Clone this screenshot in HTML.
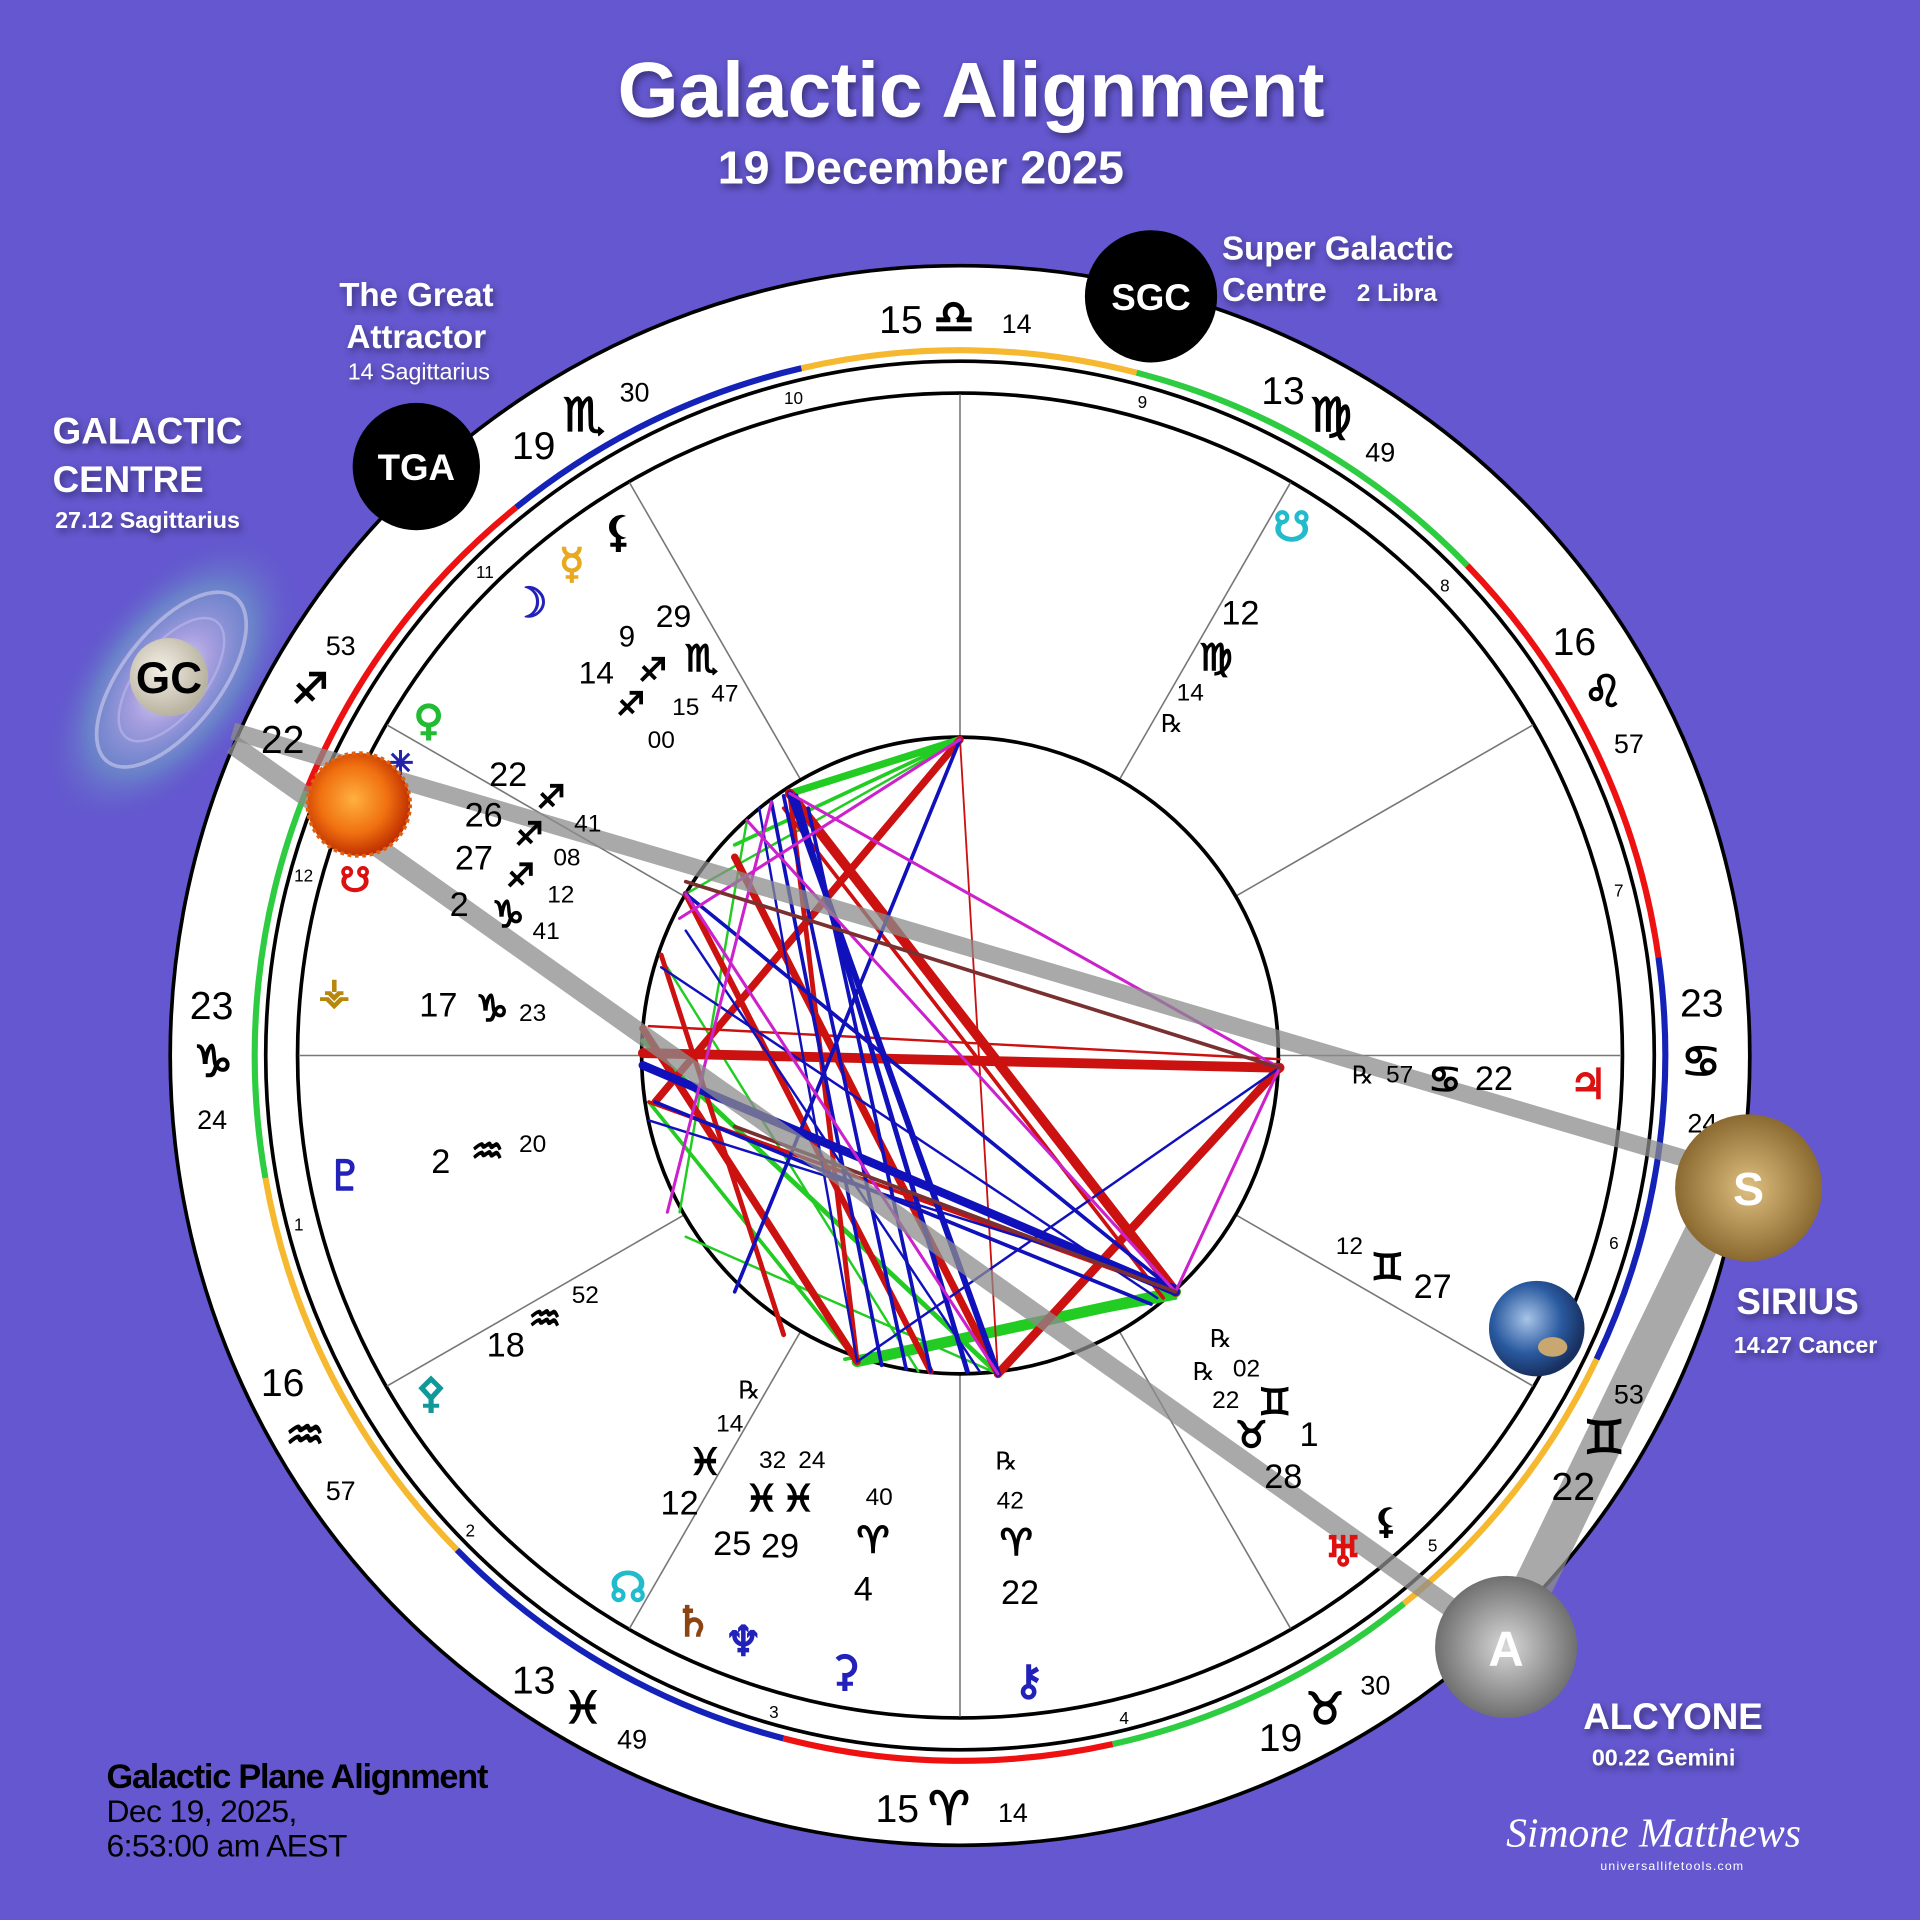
<!DOCTYPE html>
<html><head><meta charset="utf-8"><style>
html,body{margin:0;padding:0;background:#6457cf;overflow:hidden;width:1920px;height:1920px}
svg{display:block}
.w{fill:#fff;font-family:"Liberation Sans",sans-serif;font-weight:bold}
.k{fill:#000;font-family:"Liberation Sans","DejaVu Sans",sans-serif}
.g{font-family:"DejaVu Sans",sans-serif;stroke:currentColor;stroke-width:1.2}
</style></head><body>
<svg width="1920" height="1920" viewBox="0 0 1568 1568" xmlns="http://www.w3.org/2000/svg">
<defs>
<radialGradient id="gal" cx="50%" cy="50%" r="50%">
<stop offset="0" stop-color="#e8e6f5"/><stop offset="0.3" stop-color="#a89fe0"/><stop offset="0.65" stop-color="#6a8ac8" stop-opacity="0.8"/><stop offset="1" stop-color="#6457cf" stop-opacity="0"/></radialGradient>
<radialGradient id="sun" cx="45%" cy="45%" r="55%"><stop offset="0" stop-color="#ffb040"/><stop offset="0.6" stop-color="#f07010"/><stop offset="1" stop-color="#c03000"/></radialGradient>
<radialGradient id="gold" cx="50%" cy="50%" r="50%"><stop offset="0" stop-color="#e0c080"/><stop offset="1" stop-color="#8a6a30"/></radialGradient>
<radialGradient id="silv" cx="50%" cy="50%" r="50%"><stop offset="0" stop-color="#d8d8d8"/><stop offset="1" stop-color="#707070"/></radialGradient>
<radialGradient id="earth" cx="40%" cy="40%" r="60%"><stop offset="0" stop-color="#a8c4e8"/><stop offset="0.6" stop-color="#2a5aa0"/><stop offset="1" stop-color="#183060"/></radialGradient>
<radialGradient id="gcb" cx="40%" cy="40%" r="60%"><stop offset="0" stop-color="#f4f0e6"/><stop offset="1" stop-color="#b8b2a0"/></radialGradient>
<filter id="sh"><feDropShadow dx="2" dy="3" stdDeviation="3" flood-color="#000" flood-opacity="0.45"/></filter>
</defs>
<rect width="1568" height="1568" fill="#6457cf"/>

<text x="793" y="95" text-anchor="middle" class="w" font-size="64" filter="url(#sh)">Galactic Alignment</text>
<text x="752" y="150" text-anchor="middle" class="w" font-size="38" filter="url(#sh)">19 December  2025</text>

<ellipse cx="140" cy="555" rx="140" ry="75" transform="rotate(-52 140 555)" fill="url(#gal)"/>
<ellipse cx="140" cy="555" rx="85" ry="40" transform="rotate(-52 140 555)" fill="none" stroke="#e0dcf4" stroke-width="3" opacity="0.5"/>
<ellipse cx="140" cy="555" rx="60" ry="28" transform="rotate(-52 140 555)" fill="none" stroke="#c8c0f0" stroke-width="2" opacity="0.5"/>

<circle cx="784" cy="862" r="645" fill="#fff" stroke="#000" stroke-width="3"/>

<g fill="none" stroke-width="5">
<circle cx="784" cy="862" r="576" stroke="#f5b82e" stroke-dasharray="276.5 4000" transform="rotate(-103 784 862)"/>
<circle cx="784" cy="862" r="576" stroke="#2ecc40" stroke-dasharray="316.7 4000" transform="rotate(-75.5 784 862)"/>
<circle cx="784" cy="862" r="576" stroke="#ee1111" stroke-dasharray="361.9 4000" transform="rotate(-44 784 862)"/>
<circle cx="784" cy="862" r="576" stroke="#1422b8" stroke-dasharray="336.8 4000" transform="rotate(-8 784 862)"/>
<circle cx="784" cy="862" r="576" stroke="#f5b82e" stroke-dasharray="256.4 4000" transform="rotate(25.5 784 862)"/>
<circle cx="784" cy="862" r="576" stroke="#2ecc40" stroke-dasharray="266.4 4000" transform="rotate(51 784 862)"/>
<circle cx="784" cy="862" r="576" stroke="#ee1111" stroke-dasharray="271.4 4000" transform="rotate(77.5 784 862)"/>
<circle cx="784" cy="862" r="576" stroke="#1422b8" stroke-dasharray="311.6 4000" transform="rotate(104.5 784 862)"/>
<circle cx="784" cy="862" r="576" stroke="#f5b82e" stroke-dasharray="346.8 4000" transform="rotate(135.5 784 862)"/>
<circle cx="784" cy="862" r="576" stroke="#2ecc40" stroke-dasharray="321.7 4000" transform="rotate(170 784 862)"/>
<circle cx="784" cy="862" r="576" stroke="#ee1111" stroke-dasharray="291.5 4000" transform="rotate(-158 784 862)"/>
<circle cx="784" cy="862" r="576" stroke="#1422b8" stroke-dasharray="261.4 4000" transform="rotate(-129 784 862)"/>
</g>
<circle cx="784" cy="862" r="567" fill="none" stroke="#000" stroke-width="3"/>
<circle cx="784" cy="862" r="541" fill="none" stroke="#000" stroke-width="3"/>

<g stroke="#777" stroke-width="1.3">
<line x1="1044" y1="862" x2="1324" y2="862"/><line x1="1009" y1="732" x2="1252" y2="592"/>
<line x1="914" y1="637" x2="1054" y2="394"/><line x1="784" y1="602" x2="784" y2="322"/>
<line x1="654" y1="637" x2="514" y2="394"/><line x1="559" y1="732" x2="316" y2="592"/>
<line x1="524" y1="862" x2="244" y2="862"/><line x1="559" y1="992" x2="316" y2="1132"/>
<line x1="654" y1="1087" x2="514" y2="1330"/><line x1="784" y1="1122" x2="784" y2="1402"/>
<line x1="914" y1="1087" x2="1054" y2="1330"/><line x1="1009" y1="992" x2="1252" y2="1132"/>
</g>

<g class="k" font-size="14" text-anchor="middle">
<text x="648" y="330">10</text><text x="933" y="333">9</text><text x="1180" y="483">8</text><text x="1322" y="732">7</text>
<text x="1318" y="1020">6</text><text x="1170" y="1267">5</text><text x="918" y="1408">4</text><text x="632" y="1403">3</text>
<text x="384" y="1255">2</text><text x="244" y="1005">1</text><text x="248" y="720">12</text><text x="396" y="472">11</text>
</g>

<circle cx="784" cy="862" r="260" fill="#fff" stroke="#000" stroke-width="3"/>

<g fill="none" stroke-linecap="round">
<g stroke="#22cc22">
<line x1="784" y1="604" x2="645" y2="648" stroke-width="6"/><line x1="784" y1="604" x2="600" y2="690" stroke-width="3"/>
<line x1="784" y1="604" x2="560" y2="730" stroke-width="2"/><line x1="700" y1="1112" x2="960" y2="1055" stroke-width="9"/>
<line x1="690" y1="1110" x2="960" y2="1060" stroke-width="3"/>
<line x1="525" y1="850" x2="815" y2="1122" stroke-width="4"/><line x1="545" y1="790" x2="750" y2="1120" stroke-width="2"/>
<line x1="560" y1="1010" x2="815" y2="1122" stroke-width="2"/><line x1="610" y1="670" x2="555" y2="990" stroke-width="2"/>
<line x1="530" y1="900" x2="700" y2="1112" stroke-width="3"/>
</g>
<g stroke="#cc1111">
<line x1="645" y1="648" x2="960" y2="1055" stroke-width="8"/><line x1="640" y1="660" x2="950" y2="1060" stroke-width="3"/>
<line x1="1045" y1="872" x2="815" y2="1122" stroke-width="7"/><line x1="525" y1="860" x2="1045" y2="872" stroke-width="8"/>
<line x1="530" y1="838" x2="1045" y2="865" stroke-width="2"/>
<line x1="784" y1="604" x2="535" y2="900" stroke-width="6"/><line x1="600" y1="700" x2="815" y2="1122" stroke-width="6"/>
<line x1="525" y1="840" x2="700" y2="1112" stroke-width="6"/><line x1="645" y1="648" x2="700" y2="1112" stroke-width="4"/>
<line x1="784" y1="604" x2="815" y2="1122" stroke-width="1.5"/><line x1="560" y1="730" x2="760" y2="1120" stroke-width="5"/>
<line x1="540" y1="780" x2="640" y2="1090" stroke-width="4"/><line x1="530" y1="900" x2="960" y2="1055" stroke-width="3"/>
</g>
<g stroke="#1111bb">
<line x1="784" y1="604" x2="600" y2="1055" stroke-width="3"/><line x1="645" y1="648" x2="1045" y2="872" stroke-width="1.5"/>
<line x1="645" y1="648" x2="815" y2="1122" stroke-width="5"/><line x1="650" y1="650" x2="790" y2="1120" stroke-width="4"/>
<line x1="525" y1="870" x2="960" y2="1055" stroke-width="7"/><line x1="560" y1="730" x2="960" y2="1055" stroke-width="3"/>
<line x1="640" y1="650" x2="740" y2="1118" stroke-width="3"/><line x1="1045" y1="872" x2="700" y2="1112" stroke-width="2"/>
<line x1="620" y1="660" x2="700" y2="1112" stroke-width="2"/><line x1="540" y1="790" x2="945" y2="1060" stroke-width="2"/>
<line x1="530" y1="915" x2="960" y2="1050" stroke-width="2"/>
<line x1="630" y1="655" x2="720" y2="1115" stroke-width="3"/><line x1="535" y1="900" x2="940" y2="1065" stroke-width="3"/>
<line x1="560" y1="760" x2="800" y2="1120" stroke-width="2"/><line x1="660" y1="660" x2="760" y2="1120" stroke-width="3"/>
</g>
<g stroke="#cc22cc" stroke-width="2.5">
<line x1="645" y1="648" x2="1045" y2="872"/><line x1="560" y1="730" x2="815" y2="1122"/>
<line x1="1045" y1="872" x2="960" y2="1055"/><line x1="610" y1="670" x2="960" y2="1055"/>
<line x1="784" y1="604" x2="555" y2="750"/><line x1="630" y1="655" x2="545" y2="990"/>
</g>
<g stroke="#7a3030" stroke-width="3">
<line x1="560" y1="720" x2="1045" y2="872"/><line x1="600" y1="920" x2="960" y2="1055"/>
</g>
</g>

<g stroke="#8c8c8c" stroke-opacity="0.75" stroke-linecap="butt">
<line x1="190" y1="597" x2="1430" y2="962" stroke-width="14"/>
<line x1="190" y1="608" x2="1230" y2="1345" stroke-width="16"/>
<line x1="1395" y1="1000" x2="1245" y2="1310" stroke-width="32"/>
</g>

<g class="k" font-size="32">
<text x="718" y="272">15</text><text x="762" y="272" class="g" font-size="38">♎</text><text x="818" y="272" font-size="22">14</text>
<text x="1030" y="330">13</text><text x="1070" y="352" class="g" font-size="38">♍</text><text x="1115" y="377" font-size="22">49</text>
<text x="1268" y="535">16</text><text x="1293" y="577" class="g" font-size="36">♌</text><text x="1318" y="615" font-size="22">57</text>
<text x="1372" y="830">23</text><text x="1373" y="879" class="g" font-size="36">♋</text><text x="1378" y="925" font-size="22">24</text>
<text x="1318" y="1146" font-size="22">53</text><text x="1293" y="1187" class="g" font-size="38">♊</text><text x="1267" y="1225">22</text>
<text x="1028" y="1430">19</text><text x="1066" y="1408" class="g" font-size="36">♉</text><text x="1111" y="1384" font-size="22">30</text>
<text x="715" y="1488">15</text><text x="758" y="1490" class="g" font-size="38">♈</text><text x="815" y="1488" font-size="22">14</text>
<text x="418" y="1383">13</text><text x="460" y="1407" class="g" font-size="36">♓</text><text x="504" y="1428" font-size="22">49</text>
<text x="213" y="1140">16</text><text x="233" y="1184" class="g" font-size="36">♒</text><text x="266" y="1225" font-size="22">57</text>
<text x="155" y="832">23</text><text x="158" y="879" class="g" font-size="36">♑</text><text x="161" y="922" font-size="22">24</text>
<text x="213" y="615">22</text><text x="238" y="574" class="g" font-size="34">♐</text><text x="266" y="535" font-size="22">53</text>
<text x="418" y="375">19</text><text x="460" y="352" class="g" font-size="38">♏</text><text x="506" y="328" font-size="22">30</text>
</g>

<g class="g" font-size="34" text-anchor="middle">
<text x="505" y="446" fill="#000" color="#000">⚸</text>
<text x="467" y="472" fill="#e8a820" color="#e8a820">☿</text>
<text x="432" y="504" fill="#2222bb" color="#2222bb">☽</text>
<text x="350" y="600" fill="#22bb33" color="#22bb33">♀</text>
<text x="327" y="632" fill="#2222aa" color="#2222aa" font-size="26">✳</text>
<text x="290" y="728" fill="#dd1111" color="#dd1111" font-size="28">☋</text>
<text x="273" y="820" fill="#b8860b" color="#b8860b" font-size="30">⚶</text>
<text x="282" y="972" fill="#2222bb" color="#2222bb">♇</text>
<text x="352" y="1149" fill="#119999" color="#119999">⚴</text>
<text x="513" y="1308" fill="#22bbcc" color="#22bbcc">☊</text>
<text x="566" y="1336" fill="#8b4513" color="#8b4513">♄</text>
<text x="607" y="1352" fill="#2222bb" color="#2222bb">♆</text>
<text x="690" y="1376" fill="#2222bb" color="#2222bb">⚳</text>
<text x="840" y="1384" fill="#2222bb" color="#2222bb">⚷</text>
<text x="1055" y="442" fill="#22bbcc" color="#22bbcc">☋</text>
<text x="1297" y="897" fill="#dd1111" color="#dd1111">♃</text>
<text x="1097" y="1279" fill="#dd1111" color="#dd1111">♅</text>
<text x="1132" y="1252" fill="#000" color="#000" font-size="28">⚸</text>
</g>
<g class="k" font-size="24" text-anchor="middle" color="#000">
<text x="512" y="528">9</text><text x="550" y="512" font-size="26">29</text><text x="487" y="558" font-size="26">14</text>
<text x="533" y="556" class="g" font-size="26">♐</text><text x="515" y="584" class="g" font-size="26">♐</text>
<text x="573" y="548" class="g" font-size="30">♏</text><text x="560" y="584" font-size="20">15</text><text x="592" y="573" font-size="20">47</text><text x="540" y="611" font-size="20">00</text>
<text x="415" y="642" font-size="28">22</text><text x="450" y="660" class="g" font-size="26">♐</text><text x="395" y="675" font-size="28">26</text>
<text x="432" y="690" class="g" font-size="26">♐</text><text x="480" y="679" font-size="20">41</text><text x="387" y="710" font-size="28">27</text>
<text x="425" y="724" class="g" font-size="26">♐</text><text x="463" y="707" font-size="20">08</text><text x="375" y="748" font-size="28">2</text>
<text x="415" y="757" class="g" font-size="30">♑</text><text x="458" y="737" font-size="20">12</text><text x="446" y="767" font-size="20">41</text>
<text x="358" y="830" font-size="28">17</text><text x="402" y="834" class="g" font-size="30">♑</text><text x="435" y="834" font-size="20">23</text>
<text x="360" y="958" font-size="28">2</text><text x="398" y="950" class="g" font-size="30">♒</text><text x="435" y="941" font-size="20">20</text>
<text x="413" y="1108" font-size="28">18</text><text x="445" y="1087" class="g" font-size="30">♒</text><text x="478" y="1064" font-size="20">52</text>
<text x="612" y="1142" font-size="20">℞</text><text x="596" y="1169" font-size="20">14</text><text x="576" y="1204" class="g" font-size="30">♓</text>
<text x="555" y="1237" font-size="28">12</text><text x="631" y="1199" font-size="20">32</text><text x="663" y="1199" font-size="20">24</text>
<text x="622" y="1234" class="g" font-size="30">♓</text><text x="652" y="1234" class="g" font-size="30">♓</text>
<text x="598" y="1270" font-size="28">25</text><text x="637" y="1272" font-size="28">29</text>
<text x="718" y="1229" font-size="20">40</text><text x="713" y="1268" class="g" font-size="30">♈</text><text x="705" y="1307" font-size="28">4</text>
<text x="822" y="1200" font-size="20">℞</text><text x="825" y="1232" font-size="20">42</text><text x="830" y="1270" class="g" font-size="30">♈</text><text x="833" y="1310" font-size="28">22</text>
<text x="997" y="1100" font-size="20">℞</text><text x="983" y="1127" font-size="20">℞</text><text x="1018" y="1124" font-size="20">02</text>
<text x="1001" y="1150" font-size="20">22</text><text x="1041" y="1155" class="g" font-size="30">♊</text><text x="1022" y="1182" class="g" font-size="30">♉</text>
<text x="1069" y="1181" font-size="28">1</text><text x="1048" y="1215" font-size="28">28</text>
<text x="1102" y="1024" font-size="20">12</text><text x="1133" y="1045" class="g" font-size="30">♊</text><text x="1170" y="1060" font-size="28">27</text>
<text x="1113" y="885" font-size="20">℞</text><text x="1143" y="884" font-size="20">57</text><text x="1180" y="892" class="g" font-size="30">♋</text><text x="1220" y="890" font-size="28">22</text>
<text x="1013" y="510" font-size="28">12</text><text x="993" y="547" class="g" font-size="30">♍</text><text x="972" y="572" font-size="20">14</text><text x="957" y="598" font-size="20">℞</text>
</g>

<circle cx="138" cy="553" r="32" fill="url(#gcb)"/>
<text x="138" y="566" text-anchor="middle" class="k" font-size="36" font-weight="bold">GC</text>
<circle cx="293" cy="657" r="42" fill="url(#sun)" stroke="#e06010" stroke-width="3" stroke-dasharray="3 3"/>
<circle cx="340" cy="381" r="52" fill="#000"/>
<text x="340" y="392" text-anchor="middle" class="w" font-size="30">TGA</text>
<circle cx="940" cy="242" r="54" fill="#000"/>
<text x="940" y="253" text-anchor="middle" class="w" font-size="30">SGC</text>
<circle cx="1428" cy="970" r="60" fill="url(#gold)"/>
<text x="1428" y="984" text-anchor="middle" class="w" font-size="38">S</text>
<circle cx="1230" cy="1345" r="58" fill="url(#silv)"/>
<text x="1230" y="1360" text-anchor="middle" class="w" font-size="40">A</text>
<circle cx="1255" cy="1085" r="39" fill="url(#earth)"/>
<ellipse cx="1268" cy="1100" rx="12" ry="8" fill="#c8a870"/>

<g class="w" filter="url(#sh)">
<text x="340" y="250" text-anchor="middle" font-size="27">The Great</text>
<text x="340" y="284" text-anchor="middle" font-size="27">Attractor</text>
<text x="342" y="310" text-anchor="middle" font-size="19" font-weight="normal">14 Sagittarius</text>
<text x="998" y="212" font-size="27">Super Galactic</text>
<text x="998" y="246" font-size="27">Centre</text>
<text x="1108" y="246" font-size="20">2 Libra</text>
<text x="43" y="362" font-size="30">GALACTIC</text>
<text x="43" y="402" font-size="30">CENTRE</text>
<text x="45" y="431" font-size="19">27.12 Sagittarius</text>
<text x="1418" y="1073" font-size="30">SIRIUS</text>
<text x="1416" y="1105" font-size="19">14.27 Cancer</text>
<text x="1293" y="1412" font-size="30">ALCYONE</text>
<text x="1300" y="1442" font-size="19">00.22 Gemini</text>
</g>
<g class="k">
<text x="87" y="1460" font-size="28" font-weight="bold" letter-spacing="-1">Galactic Plane Alignment</text>
<text x="87" y="1488" font-size="26" letter-spacing="-0.5">Dec 19, 2025,</text>
<text x="87" y="1516" font-size="26" letter-spacing="-0.5">6:53:00 am AEST</text>
</g>
<text x="1230" y="1508" fill="#fff" font-family="Liberation Serif,serif" font-style="italic" font-size="34">Simone Matthews</text>
<text x="1307" y="1527" fill="#fff" font-family="Liberation Sans,sans-serif" font-size="10" letter-spacing="1">universallifetools.com</text>
</svg>
</body></html>
